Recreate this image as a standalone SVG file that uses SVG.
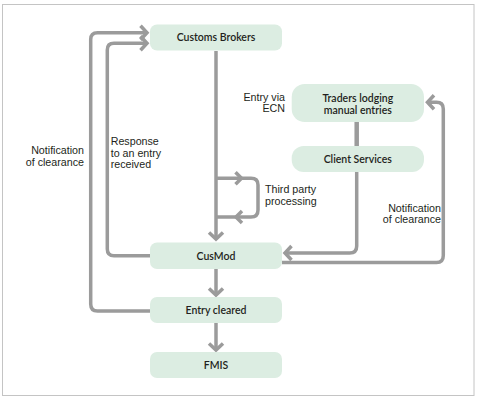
<svg xmlns="http://www.w3.org/2000/svg" width="478" height="400" viewBox="0 0 478 400">
  <style>
    .frame { fill: #ffffff; stroke: #c4c4c4; stroke-width: 1; }
    .box { fill: #dcede2; stroke: none; }
    .lbl { font-family: Lato, "Liberation Sans", sans-serif; font-size: 10.5px; font-weight: 600; fill: #231f20; text-anchor: middle; }
    .note { font-family: "Liberation Sans", Arial, sans-serif; font-size: 10.7px; fill: #231f20; }
    .end { text-anchor: end; }
    .conn { fill: none; stroke: #9b9b9b; stroke-width: 3.5; stroke-linejoin: round; }
    .chev { fill: none; stroke: #9b9b9b; stroke-width: 3.5; stroke-linejoin: miter; }
  </style>
  <defs>
    <marker id="ah" viewBox="-12 -12 24 24" markerWidth="24" markerHeight="24" markerUnits="userSpaceOnUse" refX="0" refY="0" orient="auto">
      <path d="M-6.5,-7 L0,0 L-6.5,7" fill="none" stroke="#9b9b9b" stroke-width="3.5"/>
    </marker>
  </defs>

  <rect class="frame" x="2.5" y="4.5" width="471.5" height="391"/>

  <g id="connectors">
    <path class="conn" d="M216 51 V239" marker-end="url(#ah)"/>
    <path class="conn" d="M216 178.3 H251 Q258 178.3 258 185 V210 Q258 217 251 217 H216"/>
    <polyline class="chev" points="235.5,172.3 241.5,178.3 235.5,184.3"/>
    <polyline class="chev" points="242,211 236,217 242,223"/>
    <path class="conn" d="M150 255.7 H114 Q107.3 255.7 107.3 249 V50 Q107.3 43.3 114 43.3 H147" marker-end="url(#ah)"/>
    <path class="conn" d="M150 311 H97.5 Q90.7 311 90.7 304 V39.5 Q90.7 32.7 97.5 32.7 H147" marker-end="url(#ah)"/>
    <path class="conn" d="M282 262.5 H436.5 Q443.3 262.5 443.3 255.5 V109 Q443.3 102.3 436.5 102.3 H427.5" marker-end="url(#ah)"/>
    <path class="conn" d="M356.7 172 V246 Q356.7 253 349.7 253 H285" marker-end="url(#ah)"/>
    <path class="conn" d="M356.7 122 V146" style="stroke-width:4.5"/>
    <path class="conn" d="M216 269 V295" marker-end="url(#ah)"/>
    <path class="conn" d="M216 323 V350" marker-end="url(#ah)"/>
  </g>

  <g id="node-customs-brokers">
    <rect class="box" x="150" y="24.5" width="132" height="26" rx="7"/>
    <text class="lbl" x="216" y="41">Customs Brokers</text>
  </g>
  <g id="node-traders">
    <rect class="box" x="291.7" y="84" width="132.3" height="38" rx="13"/>
    <text class="lbl" x="357.8" y="102.3">Traders lodging</text>
    <text class="lbl" x="357.8" y="113.5">manual entries</text>
  </g>
  <g id="node-client-services">
    <rect class="box" x="291.7" y="146" width="132.3" height="26" rx="12"/>
    <text class="lbl" x="357.8" y="162.5">Client Services</text>
  </g>
  <g id="node-cusmod">
    <rect class="box" x="150" y="242.5" width="132" height="26.5" rx="7"/>
    <text class="lbl" x="216" y="259.7">CusMod</text>
  </g>
  <g id="node-entry-cleared">
    <rect class="box" x="150" y="297" width="132" height="26" rx="7"/>
    <text class="lbl" x="216" y="314">Entry cleared</text>
  </g>
  <g id="node-fmis">
    <rect class="box" x="150" y="352" width="132" height="26" rx="7"/>
    <text class="lbl" x="216" y="369">FMIS</text>
  </g>

  <g id="labels">
    <text class="note end" x="285" y="100.5">Entry via</text>
    <text class="note end" x="285" y="111.8">ECN</text>
    <text class="note" x="265" y="193">Third party</text>
    <text class="note" x="265" y="205">processing</text>
    <text class="note end" x="441" y="211.7">Notification</text>
    <text class="note end" x="441" y="223.3">of clearance</text>
    <text class="note end" x="84" y="154.3">Notification</text>
    <text class="note end" x="84" y="165.7">of clearance</text>
    <text class="note" x="110.7" y="145">Response</text>
    <text class="note" x="110.7" y="156.7">to an entry</text>
    <text class="note" x="110.7" y="168.3">received</text>
  </g>
</svg>
